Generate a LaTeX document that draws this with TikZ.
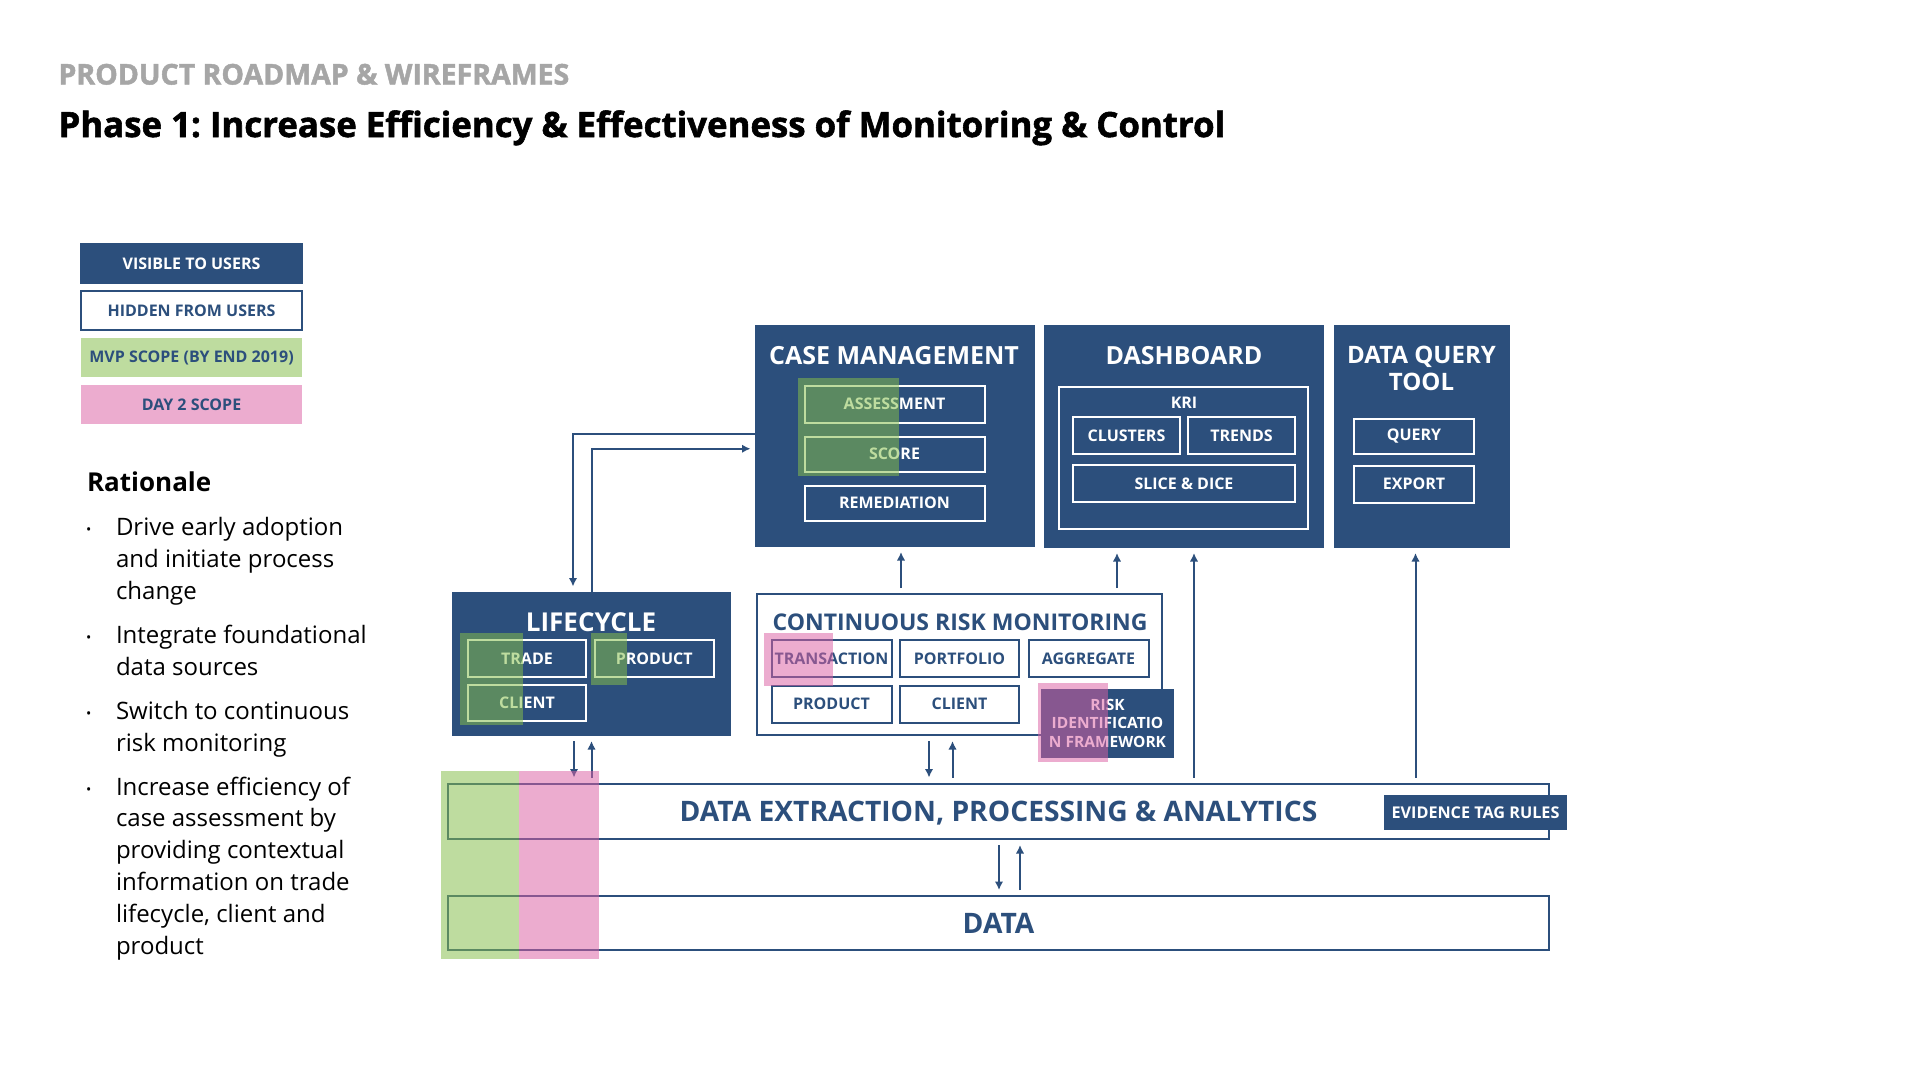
\documentclass[tikz,border=0pt]{standalone}
\usepackage{fontspec}
\setmainfont{Open Sans}
\newfontfamily\headfont{Open Sans}[BoldFeatures={FakeBold=1.6}]
\usetikzlibrary{arrows.meta,positioning}

\definecolor{navy}{RGB}{44,79,124}
\definecolor{mvpgreen}{RGB}{133,190,74}
\definecolor{daypink}{RGB}{219,96,163}
\definecolor{headgray}{RGB}{166,166,166}
\newcommand{\fsz}[2]{\fontsize{#1}{#2}\selectfont}
\frenchspacing

\begin{document}
\begin{tikzpicture}[x=1pt,y=-1pt,>={Latex[length=8.5pt,width=8.5pt]},line width=2pt,every node/.append style={align=center,inner sep=0pt},vis/.style={draw=navy,fill=navy,text=white,font=\bfseries\fsz{16}{18.5}},hid/.style={draw=navy,fill=white,text=navy,font=\bfseries\fsz{16}{18.5}},subw/.style={draw=white,fill=navy,text=white,font=\bfseries\fsz{16}{18.5}},subb/.style={draw=navy,fill=white,text=navy,font=\bfseries\fsz{16}{18.5}},boxtitle/.style={text=white,font=\bfseries\fsz{25}{27}},mvp/.style={fill=mvpgreen,fill opacity=0.53},daytwo/.style={fill=daypink,fill opacity=0.52},link/.style={->,draw=navy,shorten >=5pt,shorten <=5pt},]
    \fill[white] (0,0) rectangle (1920,1080);
    \useasboundingbox (0,0) rectangle (1920,1080);

    \node[anchor=base west, text=headgray, font=\headfont\bfseries\fsz{28.5}{30}] (kicker) at (57.5,84.5) {PRODUCT ROADMAP \& WIREFRAMES};
    \node[anchor=base west, font=\headfont\bfseries\fsz{34.8}{40}] (heading) at (57.5,137) {Phase 1: Increase Efficiency \& Effectiveness of Monitoring \& Control};

    % legend
    \node[vis, minimum width=221pt, minimum height=39pt, font=\bfseries\fsz{16}{18}] (legvis) at (191.5,263.5) {VISIBLE TO USERS};
    \node[hid, minimum width=221pt, minimum height=39pt, font=\bfseries\fsz{16}{18}, below=6pt of legvis] (leghid) {HIDDEN FROM USERS};
    \node[mvp, text opacity=1, text=navy, minimum width=221pt, minimum height=39pt, font=\bfseries\fsz{16}{18}, below=6pt of leghid] (legmvp) {MVP SCOPE (BY END 2019)};
    \node[daytwo, text opacity=1, text=navy, minimum width=221pt, minimum height=39pt, font=\bfseries\fsz{16}{18}, below=6pt of legmvp] (legday) {DAY 2 SCOPE};

    % rationale
    \node[anchor=base west, font=\bfseries\fsz{26}{30}] (ratio) at (86,491) {Rationale};
    \node[anchor=base west, align=left, font=\fsz{24}{31.8}] (why1) at (115,599) {Drive early adoption\\and initiate process\\change};
    \node[anchor=base west, align=left, font=\fsz{24}{31.8}] (why2) at (115,675) {Integrate foundational\\data sources};
    \node[anchor=base west, align=left, font=\fsz{24}{31.8}] (why3) at (115,751) {Switch to continuous\\risk monitoring};
    \node[anchor=base west, align=left, font=\fsz{24}{31.8}] (why4) at (115,954) {Increase efficiency of\\case assessment by\\providing contextual\\information on trade\\lifecycle, client and\\product};
    \node[anchor=base west, font=\fsz{14}{16}] (dot1) at (85,534) {•};
    \node[anchor=base west, font=\fsz{14}{16}] (dot2) at (85,642) {•};
    \node[anchor=base west, font=\fsz{14}{16}] (dot3) at (85,718) {•};
    \node[anchor=base west, font=\fsz{14}{16}] (dot4) at (85,794) {•};

    % visible modules
    \node[vis, minimum width=278pt, minimum height=220.5pt] (cm) at (894.5,435.75) {};
    \node[boxtitle, anchor=base] (cmtitle) at (894,364) {CASE MANAGEMENT};
    \node[subw, minimum width=180pt, minimum height=37pt] (assess) at (894.5,404) {ASSESSMENT};
    \node[subw, minimum width=180pt, minimum height=35pt, below=12pt of assess] (score) {SCORE};
    \node[subw, minimum width=180pt, minimum height=35.5pt, below=12pt of score] (remed) {REMEDIATION};

    \node[vis, minimum width=278pt, minimum height=221.5pt] (db) at (1183.5,436.25) {};
    \node[boxtitle, anchor=base] (dbtitle) at (1184,364) {DASHBOARD};
    \node[draw=white, minimum width=249pt, minimum height=142pt] (kri) at (1183.5,458) {};
    \node[text=white, font=\bfseries\fsz{16}{18.5}] (krititle) at (1184,403) {KRI};
    \node[subw, minimum width=107pt, minimum height=36.5pt] (clus) at (1126.5,435.5) {CLUSTERS};
    \node[subw, minimum width=107pt, minimum height=36.5pt, right=6pt of clus] (trend) {TRENDS};
    \node[subw, minimum width=222.5pt, minimum height=37pt] (slice) at (1184,483.5) {SLICE \& DICE};

    \node[vis, minimum width=174pt, minimum height=221.5pt] (dqt) at (1421.5,436.25) {};
    \node[boxtitle, font=\bfseries\fsz{24}{27}] (dqttitle) at (1421.5,368.5) {DATA QUERY\\TOOL};
    \node[subw, minimum width=120pt, minimum height=35pt] (query) at (1414,436.5) {QUERY};
    \node[subw, minimum width=120pt, minimum height=37pt, below=9.5pt of query] (export) {EXPORT};

    \node[vis, minimum width=277pt, minimum height=142.5pt] (lc) at (591.5,663.75) {};
    \node[boxtitle, font=\bfseries\fsz{26}{28}, anchor=base] (lctitle) at (591,631) {LIFECYCLE};
    \node[subw, minimum width=118.5pt, minimum height=37pt] (trade) at (527,658.5) {TRADE};
    \node[subw, minimum width=119pt, minimum height=37pt, right=6.5pt of trade] (lcprod) {PRODUCT};
    \node[subw, minimum width=118.5pt, minimum height=36.5pt, below=5.5pt of trade] (lcclient) {CLIENT};

    % hidden modules
    \node[hid, minimum width=405pt, minimum height=141pt] (crm) at (959.5,664.5) {};
    \node[anchor=base, text=navy, font=\bfseries\fsz{23}{27}] (crmtitle) at (960,630) {CONTINUOUS RISK MONITORING};
    \node[subb, minimum width=120pt, minimum height=37pt] (trans) at (831.5,658.5) {TRANSACTION};
    \node[subb, minimum width=119pt, minimum height=37pt, right=6.5pt of trans] (port) {PORTFOLIO};
    \node[subb, minimum width=120pt, minimum height=37pt, right=7.5pt of port] (aggr) {AGGREGATE};
    \node[subb, minimum width=120pt, minimum height=36.5pt, below=7pt of trans] (crmprod) {PRODUCT};
    \node[subb, minimum width=119pt, minimum height=36.5pt, below=7pt of port] (crmclient) {CLIENT};
    \node[vis, minimum width=131pt, minimum height=67.5pt, font=\bfseries\fsz{15.5}{18.5}] (rif) at (1107.5,723.25) {RISK\\IDENTIFICATIO\\N FRAMEWORK};

    \node[hid, minimum width=1101pt, minimum height=55.5pt, text depth=0pt, font=\bfseries\fsz{28.2}{32}] (depa) at (998.5,811.25) {DATA EXTRACTION, PROCESSING \& ANALYTICS};
    \node[vis, minimum width=181pt, minimum height=33pt, font=\bfseries\fsz{16.2}{18}] (etr) at (1475.5,812.5) {EVIDENCE TAG RULES};
    \node[hid, minimum width=1101pt, minimum height=54pt, text depth=0pt, font=\bfseries\fsz{28.2}{32}] (data) at (998.5,923) {DATA};

    % connectors
    \draw[->, draw=navy, shorten >=5pt] ([yshift=2pt]cm.west) -| ([xshift=-18.5pt]lc.north);
    \draw[->, draw=navy, shorten >=4pt] (lc.north) |- ([yshift=-13pt]cm.west);
    \draw[link] ([xshift=-17.5pt]lc.south) -- ([xshift=-17.5pt]lc.south |- depa.north);
    \draw[link] (lc.south |- depa.north) -- (lc.south);
    \draw[link] ([xshift=6.5pt]cm.south |- crm.north) -- ([xshift=6.5pt]cm.south);
    \draw[link] ([xshift=-66.5pt]db.south |- crm.north) -- ([xshift=-66.5pt]db.south);
    \draw[link] ([xshift=10.5pt]db.south |- depa.north) -- ([xshift=10.5pt]db.south);
    \draw[link] ([xshift=-6pt]dqt.south |- depa.north) -- ([xshift=-6pt]dqt.south);
    \draw[link] ([xshift=-30.5pt]crm.south) -- ([xshift=-30.5pt]crm.south |- depa.north);
    \draw[link] ([xshift=-7pt]crm.south |- depa.north) -- ([xshift=-7pt]crm.south);
    \draw[link] ([xshift=0.5pt]depa.south) -- ([xshift=0.5pt]depa.south |- data.north);
    \draw[link] ([xshift=21.5pt]depa.south |- data.north) -- ([xshift=21.5pt]depa.south);

    % scope overlays
    \foreach \xa/\ya/\xb/\yb in {798/378/899/476,460/633/523/725,591/633/627/684.5,441/771/519/959}
        \fill[mvp] (\xa,\ya) rectangle (\xb,\yb);
    \foreach \xa/\ya/\xb/\yb in {764/633/833/686,1038/683/1108/762,519/771/599/959}
        \fill[daytwo] (\xa,\ya) rectangle (\xb,\yb);
\end{tikzpicture}
\end{document}
